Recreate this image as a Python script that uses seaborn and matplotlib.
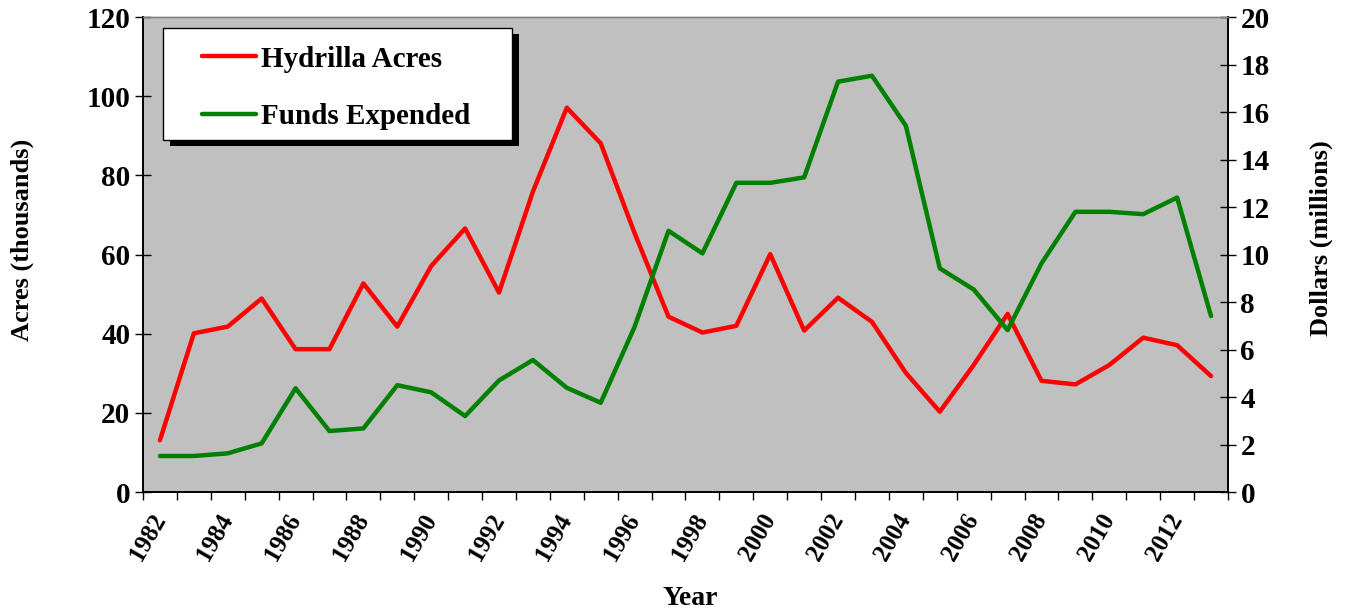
"""Hydrilla acres vs. funds expended, 1982-2013 (dual axis line chart)"""
import matplotlib.pyplot as plt
import numpy as np
import pandas as pd
import seaborn as sns
from matplotlib.lines import Line2D
from matplotlib.patches import Rectangle
from matplotlib.ticker import FixedLocator

years = list(range(1982, 2014))
hydrilla_acres = [13.1, 40.1, 41.8, 48.9, 36.1, 36.1, 52.7, 41.8, 57.1, 66.6,
                  50.4, 75.9, 97.1, 88.1, 65.4, 44.3, 40.3, 42.0, 60.1, 40.8,
                  49.1, 43.0, 30.1, 20.3, 32.1, 45.0, 28.1, 27.2, 32.1, 39.0,
                  37.1, 29.3]
funds_expended = [1.52, 1.52, 1.63, 2.05, 4.37, 2.57, 2.68, 4.5, 4.2, 3.2,
                  4.7, 5.56, 4.39, 3.76, 6.96, 11.0, 10.05, 13.02, 13.02, 13.25,
                  17.28, 17.53, 15.42, 9.42, 8.53, 6.82, 9.63, 11.8, 11.8, 11.7,
                  12.4, 7.41]
series_labels = ["Hydrilla Acres", "Funds Expended"]
series_colors = ["#ff0000", "#008000"]

df = pd.DataFrame({"year": years, "acres": hydrilla_acres, "funds": funds_expended})

sns.set_style("ticks")
plt.rcParams["font.family"] = ["Liberation Serif", "DejaVu Serif"]
plt.rcParams["font.weight"] = "bold"
for key in ("text.color", "axes.labelcolor", "xtick.color", "ytick.color"):
    plt.rcParams[key] = "black"

fig = plt.figure(figsize=(13.45, 6.09), dpi=100)
ax = fig.add_axes([0.1063, 0.192, 0.8067, 0.78])
ax2 = ax.twinx()

sns.lineplot(data=df, x="year", y="acres", ax=ax, color=series_colors[0],
             lw=3.2, legend=False)
sns.lineplot(data=df, x="year", y="funds", ax=ax2, color=series_colors[1],
             lw=3.2, legend=False)

ax.set_facecolor("#c0c0c0")
ax.set_xlim(years[0] - 0.5, years[-1] + 0.5)
ax.set_ylim(0, 120)
ax2.set_ylim(0, 20)
ax.set_yticks(np.arange(0, 121, 20))
ax2.set_yticks(np.arange(0, 21, 2))

# category axis: labels on every other year, marks at category boundaries
ax.set_xticks(years[::2])
ax.set_xticklabels([str(y) for y in years[::2]], rotation=60, ha="right",
                   va="center", rotation_mode="anchor", fontsize=18,
                   fontweight="bold")
ax.xaxis.set_minor_locator(FixedLocator(np.arange(years[0] - 0.5, years[-1] + 1)))
ax.tick_params(axis="x", which="major", length=0, pad=17)
ax.tick_params(axis="x", which="minor", length=6, width=1, direction="out",
               color="black")
ax.tick_params(axis="y", length=11, width=1, direction="inout", labelsize=21)
ax2.tick_params(axis="y", length=11, width=1, direction="inout", labelsize=21)
for lab in ax.get_yticklabels() + ax2.get_yticklabels():
    lab.set_fontweight("bold")

ax.set_xlabel("Year", fontsize=20, fontweight="bold")
ax.set_ylabel("Acres (thousands)", fontsize=19, fontweight="bold")
ax2.set_ylabel("Dollars (millions)", fontsize=19, fontweight="bold")
ax.xaxis.set_label_coords(0.504, -0.198)
ax.yaxis.set_label_coords(-0.1, 0.531)
ax2.yaxis.set_label_coords(1.0755, 0.535)

for a in (ax, ax2):
    for side in ("left", "bottom", "right"):
        a.spines[side].set_color("black")
        a.spines[side].set_linewidth(1.2)
    a.spines["top"].set_color("#808080")
    a.spines["top"].set_linewidth(1)

# legend box with a solid offset shadow
bx, by, bw, bh = 0.0184, 0.741, 0.3217, 0.2358
ax2.add_patch(Rectangle((bx + 0.0065, by - 0.0126), bw, bh, transform=ax2.transAxes,
                        facecolor="black", edgecolor="none", zorder=5))
ax2.add_patch(Rectangle((bx, by), bw, bh, transform=ax2.transAxes,
                        facecolor="white", edgecolor="black", lw=1, zorder=6))
handles = [Line2D([], [], color=c, lw=3.2, solid_capstyle="round") for c in series_colors]
leg = ax2.legend(handles, series_labels, loc="upper left",
                 bbox_to_anchor=(0.054, 0.94), frameon=False, borderpad=0,
                 borderaxespad=0, handlelength=1.85, handletextpad=0.2,
                 labelspacing=1.06, prop={"size": 21, "weight": "bold"})
leg.set_zorder(7)

fig.savefig("out.png", dpi=100)
